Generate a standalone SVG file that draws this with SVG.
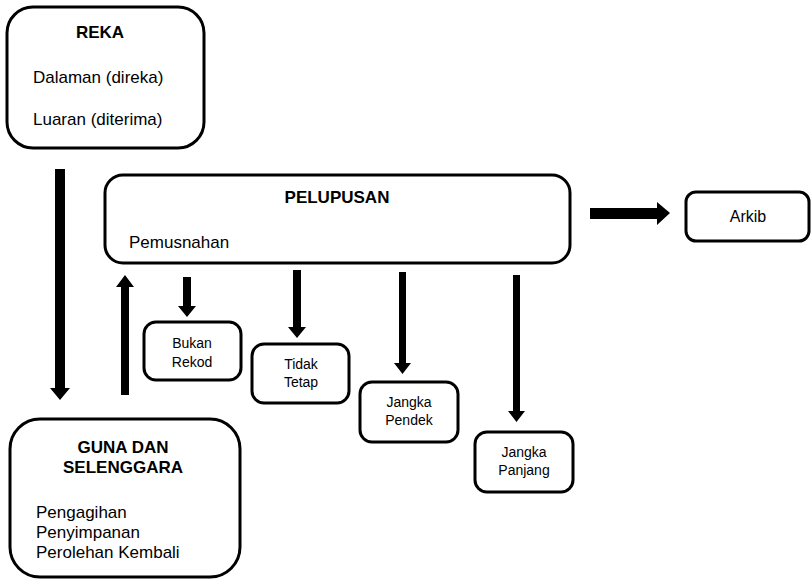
<svg xmlns="http://www.w3.org/2000/svg" width="811" height="580" viewBox="0 0 811 580">
<style>
.box{fill:#fff;stroke:#000;stroke-width:3}
.t{font-family:"Liberation Sans",Arial,sans-serif;fill:#000}
.h{font-size:17px;font-weight:bold;text-anchor:middle}
.b{font-size:17px}
.s{font-size:14px;text-anchor:middle}
.arrow{fill:#000}
</style>
<rect width="811" height="580" fill="#fff"/>
<g id="connectors">
<polygon class="arrow" points="55,169 65,169 65,388 70,388 60,400 50,388 55,388"/>
<polygon class="arrow" points="121,395 129,395 129,287 134,287 125,275 116,287 121,287"/>
<polygon class="arrow" points="590,208 657,208 657,202 670,213 657,225 657,219 590,219"/>
<polygon class="arrow" points="183,277 191,277 191,306 196,306 187,317 178,306 183,306"/>
<polygon class="arrow" points="293,270 301,270 301,327 306,327 297,338 288,327 293,327"/>
<polygon class="arrow" points="399,272 406,272 406,363 411,363 402.5,374 394,363 399,363"/>
<polygon class="arrow" points="513,275 520,275 520,411 525,411 516.5,422 508,411 513,411"/>
</g>
<g id="reka">
<rect class="box" x="7" y="7" width="197" height="141" rx="26"/>
<text class="t h" x="100" y="38">REKA</text>
<text class="t b" x="33" y="83">Dalaman (direka)</text>
<text class="t b" x="33" y="125">Luaran (diterima)</text>
</g>
<g id="pelupusan">
<rect class="box" x="105" y="175" width="465" height="88" rx="18"/>
<text class="t h" x="337" y="203">PELUPUSAN</text>
<text class="t b" x="129" y="248">Pemusnahan</text>
</g>
<g id="arkib">
<rect class="box" x="686" y="192" width="123" height="49" rx="10"/>
<text class="t" x="748" y="222" font-size="16" text-anchor="middle">Arkib</text>
</g>
<g id="bukan-rekod">
<rect class="box" x="144" y="322" width="97" height="58" rx="12"/>
<text class="t s" x="192" y="348">Bukan</text>
<text class="t s" x="192" y="367">Rekod</text>
</g>
<g id="tidak-tetap">
<rect class="box" x="252" y="344" width="97" height="59" rx="12"/>
<text class="t s" x="301" y="369">Tidak</text>
<text class="t s" x="301" y="387">Tetap</text>
</g>
<g id="jangka-pendek">
<rect class="box" x="360" y="382" width="98" height="60" rx="12"/>
<text class="t s" x="409" y="407">Jangka</text>
<text class="t s" x="409" y="425">Pendek</text>
</g>
<g id="jangka-panjang">
<rect class="box" x="475" y="432" width="98" height="60" rx="12"/>
<text class="t s" x="524" y="457">Jangka</text>
<text class="t s" x="524" y="475">Panjang</text>
</g>
<g id="guna-dan-selenggara">
<rect class="box" x="10" y="419" width="230" height="158" rx="30"/>
<text class="t h" x="123" y="453">GUNA DAN</text>
<text class="t h" x="123" y="473">SELENGGARA</text>
<text class="t b" x="36" y="518">Pengagihan</text>
<text class="t b" x="36" y="538">Penyimpanan</text>
<text class="t b" x="36" y="558">Perolehan Kembali</text>
</g>
</svg>
